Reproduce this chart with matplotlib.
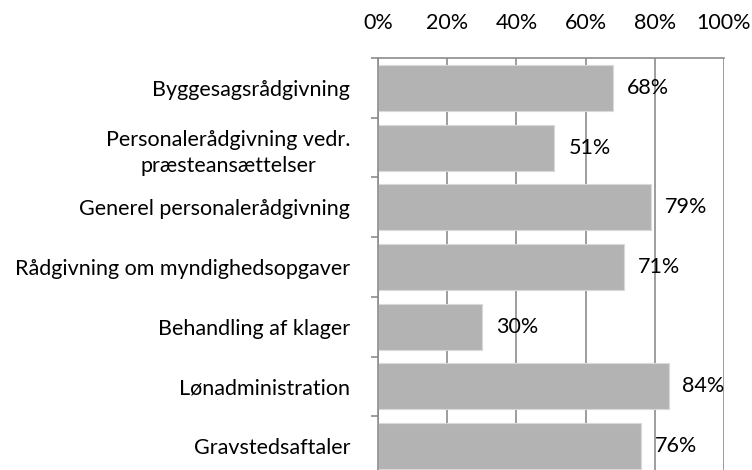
import matplotlib.pyplot as plt
import numpy as np

plt.rcParams['font.family'] = ['Lato', 'DejaVu Sans']

# ------------------ Data ------------------
categories = ['Byggesagsrådgivning',
              'Personalerådgivning vedr.\npræsteansættelser',
              'Generel personalerådgivning',
              'Rådgivning om myndighedsopgaver',
              'Behandling af klager',
              'Lønadministration',
              'Gravstedsaftaler']
values = [68, 51, 79, 71, 30, 84, 76]
xticks = [0, 20, 40, 60, 80, 100]
xtick_labels = ['0%', '20%', '40%', '60%', '80%', '100%']

# ------------------ Plot ------------------
fig = plt.figure(figsize=(7.52, 4.70), dpi=100)
# plot area runs past the bottom edge, like the cropped original
ax = fig.add_axes([378 / 752, 1 - 476 / 470, 346 / 752, 418 / 470])

fs = 15.5
y = np.arange(len(categories))
ax.barh(y, values, height=0.77, color='#b3b3b3', edgecolor='#d9d9d9', linewidth=0.8, zorder=2)

for yi, v in zip(y, values):
    ax.text(v + 4, yi, f'{v}%', va='center', ha='left', fontsize=fs, color='black', zorder=4)

ax.set_xlim(0, 100)
ax.set_ylim(len(categories) - 0.5, -0.5)

ax.xaxis.tick_top()
ax.set_xticks(xticks)
ax.set_xticklabels(xtick_labels, fontsize=fs)
ax.tick_params(axis='x', length=0, pad=18)
ax.grid(axis='x', color='#8c8c8c', linewidth=1.2, zorder=1)

ax.set_yticks(y)
ax.set_yticklabels(categories, fontsize=fs, multialignment='center', linespacing=1.4)
ax.set_yticks(np.arange(len(categories) + 1) - 0.5, minor=True)
ax.tick_params(axis='y', which='major', length=0, pad=20)
ax.tick_params(axis='y', which='minor', length=5, color='#8c8c8c', width=1.2)

for side in ['bottom', 'right']:
    ax.spines[side].set_visible(False)
ax.spines['left'].set_color('#8c8c8c')
ax.spines['left'].set_linewidth(1.2)
ax.spines['top'].set_color('#8c8c8c')
ax.spines['top'].set_linewidth(1.2)

fig.savefig('out.png', dpi=100)
